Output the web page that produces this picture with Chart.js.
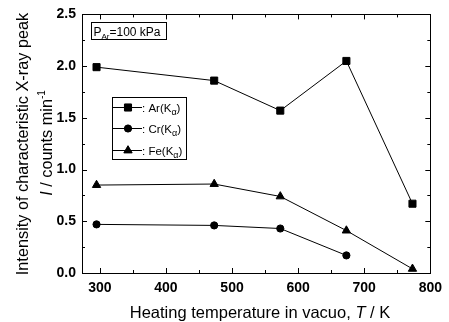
<!DOCTYPE html>
<html><head><meta charset="utf-8">
<script src="https://cdn.jsdelivr.net/npm/chart.js@4"></script>
<style>html,body{margin:0;padding:0;background:#fff}#w{width:449px;height:322px}</style>
</head><body><div id="w"><canvas id="c" width="449" height="322"></canvas></div>
<script>
const temperatures = [295, 473, 573, 673, 773];
const arValues = [1.99, 1.86, 1.57, 2.05, 0.67];
const crValues = [0.47, 0.46, 0.43, 0.17];
const feValues = [0.85, 0.86, 0.74, 0.41, 0.04];
const xTickValues = [300, 400, 500, 600, 700, 800];
const xMinorValues = [350, 450, 550, 650, 750];
const yTickValues = [0, 0.5, 1.0, 1.5, 2.0, 2.5];
const yMinorValues = [0.25, 0.75, 1.25, 1.75, 2.25];
const seriesNames = ['Ar', 'Cr', 'Fe'];

const FONT = '"Liberation Sans", Arial, sans-serif';
function pts(vals){ return vals.map((v,i)=>({x:temperatures[i], y:v})); }

function drawRich(ctx, segs, x, y, align){
  let total = 0;
  segs.forEach(s=>{ ctx.font = (s.style||'') + ' ' + s.size + 'px ' + FONT; s.w = ctx.measureText(s.t).width; total += s.w; });
  let cx = align === 'center' ? x - total/2 : x;
  ctx.textBaseline = 'alphabetic'; ctx.textAlign = 'left';
  segs.forEach(s=>{ ctx.font = (s.style||'') + ' ' + s.size + 'px ' + FONT; ctx.fillText(s.t, cx, y + (s.dy||0)); cx += s.w; });
}

const deco = {
  id: 'deco',
  afterDraw(chart){
    const ctx = chart.ctx, a = chart.chartArea, xs = chart.scales.x, ys = chart.scales.y;
    ctx.save();
    ctx.strokeStyle = '#000'; ctx.fillStyle = '#000'; ctx.lineWidth = 1;
    ctx.strokeRect(Math.round(a.left)+0.5, Math.round(a.top)+0.5, Math.round(a.right-a.left), Math.round(a.bottom-a.top));
    ctx.beginPath();
    const tk = (vals, len) => {
      vals.forEach(v=>{
        const px = Math.round(xs.getPixelForValue(v))+0.5;
        ctx.moveTo(px, a.bottom); ctx.lineTo(px, a.bottom-len);
        ctx.moveTo(px, a.top); ctx.lineTo(px, a.top+len);
      });
    };
    const tky = (vals, len) => {
      vals.forEach(v=>{
        const py = Math.round(ys.getPixelForValue(v))+0.5;
        ctx.moveTo(a.left, py); ctx.lineTo(a.left+len, py);
        ctx.moveTo(a.right, py); ctx.lineTo(a.right-len, py);
      });
    };
    tk(xTickValues, 5); tk(xMinorValues, 3); tky(yTickValues, 5); tky(yMinorValues, 3);
    ctx.stroke();

    // PAr box
    ctx.strokeRect(91.5, 22.5, 75, 17);
    drawRich(ctx, [{t:'P',size:12},{t:'Ar',size:8,dy:3},{t:'=100 kPa',size:12}], 93.5, 35.5, 'left');

    // legend box
    ctx.strokeRect(112.5, 97.5, 74, 62);
    const rows = [107, 128, 150];
    const styles = ['rect','circle','triangle'];
    const radii = [5, 3.6, 4.8];
    rows.forEach((ry,i)=>{
      ctx.beginPath(); ctx.moveTo(113, ry+0.5); ctx.lineTo(142, ry+0.5); ctx.stroke();
      Chart.helpers.drawPoint(ctx, {pointStyle: styles[i], radius: radii[i], borderWidth: 1}, 128, ry+0.5);
      ctx.fill();
      drawRich(ctx, [{t:': ' + seriesNames[i] + '(K',size:11.5},{t:'α',size:9,dy:3},{t:')',size:11.5}], 142, ry+4.5, 'left');
    });

    // x title
    drawRich(ctx, [{t:'Heating temperature in vacuo, ',size:16.5},{t:'T',size:16.5,style:'italic'},{t:' / K',size:16.5}], 260, 318, 'center');

    // y title
    ctx.save();
    ctx.translate(28, 144); ctx.rotate(-Math.PI/2);
    drawRich(ctx, [{t:'Intensity of characteristic X-ray peak',size:16.3}], 0, 0, 'center');
    ctx.restore();
    ctx.save();
    ctx.translate(52, 143); ctx.rotate(-Math.PI/2);
    drawRich(ctx, [{t:'I',size:16.3,style:'italic'},{t:' / counts min',size:16.3},{t:'-1',size:10,dy:-7}], 0, 0, 'center');
    ctx.restore();
    ctx.restore();
  }
};

const ds = (label, vals, style, r) => ({
  label, data: pts(vals), showLine: true, borderColor: '#000', backgroundColor: '#000',
  borderWidth: 1, pointStyle: style, pointRadius: r, pointHoverRadius: r, pointBorderWidth: 1, tension: 0
});

new Chart(document.getElementById('c'), {
  type: 'scatter',
  data: { datasets: [ ds('Ar', arValues, 'rect', 5), ds('Cr', crValues, 'circle', 3.6), ds('Fe', feValues, 'triangle', 4.8) ] },
  options: {
    responsive: false, animation: false, devicePixelRatio: 1,
    layout: { padding: { top: 13, right: 14, left: 0, bottom: 0 } },
    plugins: { legend: { display: false }, tooltip: { enabled: false } },
    scales: {
      x: {
        type: 'linear', min: 273, max: 800,
        grid: { display: false, drawTicks: false }, border: { display: false },
        afterBuildTicks: s => { s.ticks = xTickValues.map(v=>({value:v})); },
        ticks: { padding: 7, color: '#000', font: { family: FONT, size: 14, weight: 'bold' }, maxRotation: 0, autoSkip: false, callback: v => String(v) },
        afterFit: s => { s.height = 49; }
      },
      y: {
        type: 'linear', min: 0, max: 2.5,
        grid: { display: false, drawTicks: false }, border: { display: false },
        afterBuildTicks: s => { s.ticks = yTickValues.map(v=>({value:v})); },
        ticks: { padding: 6, color: '#000', font: { family: FONT, size: 14, weight: 'bold' }, autoSkip: false, callback: v => v.toFixed(1) },
        afterFit: s => { s.width = 82; }
      }
    }
  },
  plugins: [deco]
});
</script></body></html>
